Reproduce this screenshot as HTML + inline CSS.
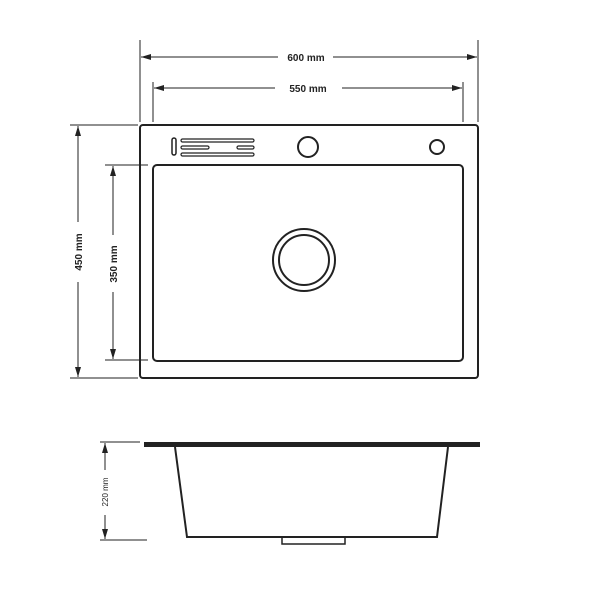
<!DOCTYPE html>
<html><head><style>body{margin:0;background:#fff}svg{display:block}</style></head><body>
<svg width="600" height="600" viewBox="0 0 600 600" xmlns="http://www.w3.org/2000/svg" font-family="Liberation Sans, sans-serif">
<defs><marker id="a" viewBox="0 0 10 6" refX="10" refY="3" markerWidth="10" markerHeight="6" orient="auto-start-reverse" markerUnits="userSpaceOnUse"><path d="M0,0L10,3L0,6z" fill="#222"/></marker></defs>
<g stroke="#222" stroke-width="1" fill="none">
<line x1="140" y1="40" x2="140" y2="122"/><line x1="478" y1="40" x2="478" y2="122"/>
<line x1="153" y1="82" x2="153" y2="122"/><line x1="463" y1="82" x2="463" y2="122"/>
<line x1="141" y1="57" x2="278" y2="57" marker-start="url(#a)"/><line x1="333" y1="57" x2="477" y2="57" marker-end="url(#a)"/>
<line x1="154" y1="88" x2="275" y2="88" marker-start="url(#a)"/><line x1="342" y1="88" x2="462" y2="88" marker-end="url(#a)"/>
<line x1="70" y1="125" x2="138" y2="125"/><line x1="70" y1="378" x2="138" y2="378"/>
<line x1="105" y1="165" x2="148" y2="165"/><line x1="105" y1="360" x2="148" y2="360"/>
<line x1="78" y1="126" x2="78" y2="222" marker-start="url(#a)"/><line x1="78" y1="282" x2="78" y2="377" marker-end="url(#a)"/>
<line x1="113" y1="166" x2="113" y2="235" marker-start="url(#a)"/><line x1="113" y1="292" x2="113" y2="359" marker-end="url(#a)"/>
<rect x="140" y="125" width="338" height="253" rx="3" stroke-width="2"/>
<rect x="153" y="165" width="310" height="196" rx="4" stroke-width="2"/>
<circle cx="304" cy="260" r="31" stroke-width="2"/><circle cx="304" cy="260" r="25" stroke-width="2"/>
<circle cx="308" cy="147" r="10" stroke-width="2"/><circle cx="437" cy="147" r="7" stroke-width="2"/>
<rect x="172" y="138" width="4" height="17" rx="2" stroke-width="1.5"/>
<rect x="181" y="139" width="73" height="3" rx="1.5" stroke-width="1.2"/>
<rect x="181" y="146" width="28" height="3" rx="1.5" stroke-width="1.2"/>
<rect x="237" y="146" width="17" height="3" rx="1.5" stroke-width="1.2"/>
<rect x="181" y="153" width="73" height="3" rx="1.5" stroke-width="1.2"/>
<line x1="100" y1="442" x2="140" y2="442"/><line x1="100" y1="540" x2="147" y2="540"/>
<line x1="105" y1="443" x2="105" y2="470" marker-start="url(#a)"/><line x1="105" y1="515" x2="105" y2="539" marker-end="url(#a)"/>
<path d="M175,447 L187,537 L437,537 L448,447" stroke-width="2"/>
<path d="M282,537 V544 H345 V537" stroke-width="1.5"/>
</g>
<rect x="144" y="442" width="336" height="5" fill="#222"/>
<g fill="#222" font-weight="bold" font-size="10">
<text x="306" y="61" text-anchor="middle">600 mm</text>
<text x="308" y="92" text-anchor="middle">550 mm</text>
<text transform="translate(82,252) rotate(-90)" text-anchor="middle">450 mm</text>
<text transform="translate(117,264) rotate(-90)" text-anchor="middle">350 mm</text>
<text transform="translate(108,492) rotate(-90)" text-anchor="middle" font-weight="normal" font-size="8">220 mm</text>
</g>
</svg>
</body></html>
